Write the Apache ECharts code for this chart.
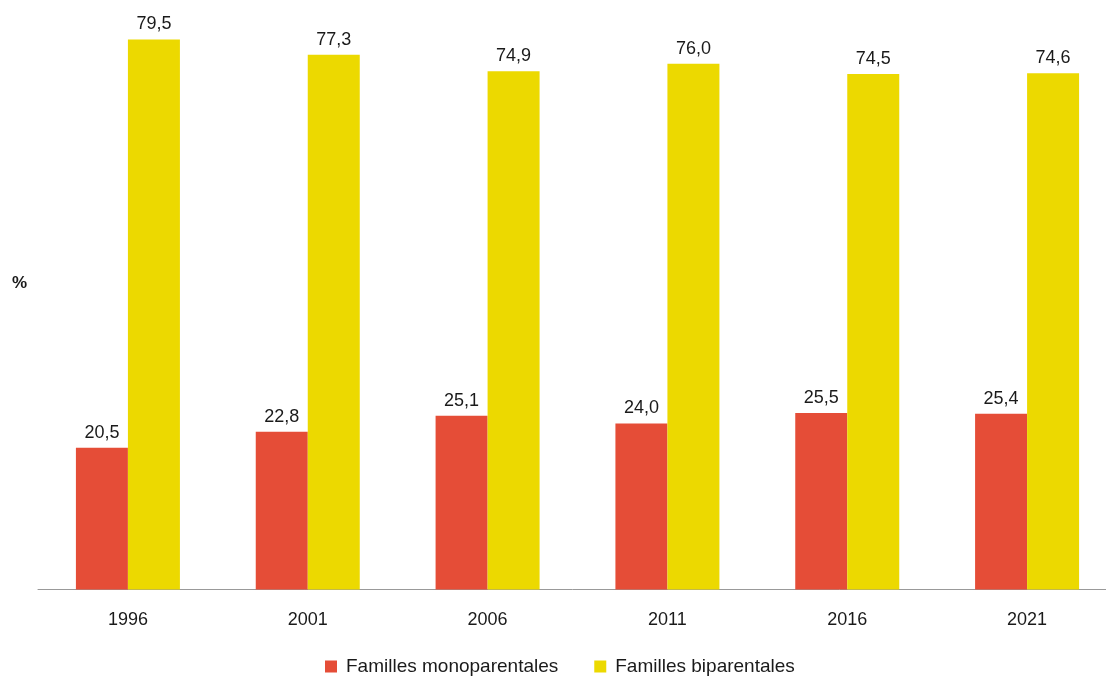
<!DOCTYPE html>
<html>
<head>
<meta charset="utf-8">
<script src="https://cdn.jsdelivr.net/npm/echarts@6/dist/echarts.min.js"></script>
<style>
html,body{margin:0;padding:0;background:#fff;}
#main{width:1106px;height:677px;}
</style>
</head>
<body>
<div id="main"></div>
<script>
var categories = ['1996', '2001', '2006', '2011', '2016', '2021'];
var monoparentales = [20.5, 22.8, 25.1, 24.0, 25.5, 25.4];
var biparentales = [79.5, 77.3, 74.9, 76.0, 74.5, 74.6];
var seriesNames = ['Familles monoparentales', 'Familles biparentales'];

var chart = echarts.init(document.getElementById('main'));
var font = 'Liberation Sans, Arial, sans-serif';
function fmt(p) { return p.value.toFixed(1).replace('.', ','); }
var labelStyle = {
  show: true, position: 'top', distance: 6, formatter: fmt,
  fontFamily: font, fontSize: 18, color: '#1a1a1a'
};
chart.setOption({
  animation: false,
  backgroundColor: '#fff',
  grid: { left: 38, top: 36, right: -11, bottom: 87.5, outerBoundsMode: 'none', containLabel: false },
  legend: {
    data: seriesNames,
    top: 652, left: 320,
    itemWidth: 12, itemHeight: 12, itemGap: 36,
    icon: 'rect',
    textStyle: { fontFamily: font, fontSize: 19, color: '#1a1a1a', padding: [0, 0, 0, 4] }
  },
  graphic: [{
    type: 'text', left: 12, top: 275,
    style: { text: '%', fontFamily: font, fontSize: 17, fontWeight: 'bold', fill: '#1a1a1a' }
  }],
  xAxis: {
    type: 'category', data: categories,
    axisLine: { lineStyle: { color: '#999', width: 1 } },
    axisTick: { show: false },
    axisLabel: { fontFamily: font, fontSize: 18, color: '#1a1a1a', margin: 22 }
  },
  yAxis: {
    type: 'value', min: 0, max: 80,
    axisLine: { show: false }, axisTick: { show: false },
    axisLabel: { show: false }, splitLine: { show: false }
  },
  series: [
    { name: seriesNames[0], type: 'bar', data: monoparentales, barWidth: 52, barGap: '0%',
      itemStyle: { color: '#E54D37' }, label: labelStyle },
    { name: seriesNames[1], type: 'bar', data: biparentales, barWidth: 52, barGap: '0%',
      itemStyle: { color: '#ECD900' }, label: labelStyle }
  ]
});
</script>
</body>
</html>
